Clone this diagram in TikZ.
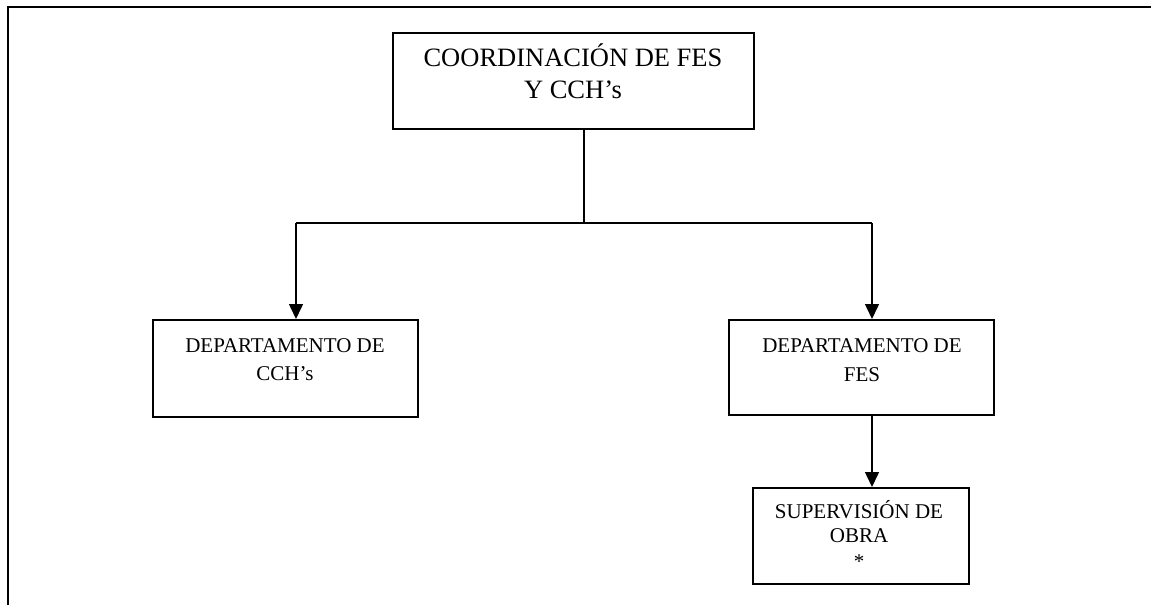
\documentclass[tikz,border=0pt]{standalone}
\usepackage{fontspec}
\setmainfont{Liberation Serif}
\usetikzlibrary{arrows.meta}
\begin{document}
\begin{tikzpicture}[x=1pt,y=-1pt,
  box/.style={draw,line width=1.5pt,rectangle,inner sep=0pt,anchor=north west},
  conn/.style={line width=1.5pt},
  arr/.style={conn,-{Triangle[length=15pt,width=14pt]}},
  big/.style={font=\fontsize{26.5}{32}\selectfont,anchor=base,inner sep=0pt},
  small/.style={font=\fontsize{21}{25}\selectfont,anchor=base,inner sep=0pt}]
\useasboundingbox (0,0) rectangle (1151,605);
% outer frame (top and left edges only)
\draw[line width=2pt] (8,605) -- (8,7) -- (1151,7);
% boxes
\node[box,minimum width=361pt,minimum height=96pt] (top) at (392,32) {};
\node[box,minimum width=265pt,minimum height=97pt] (cch) at (152,319) {};
\node[box,minimum width=265pt,minimum height=95pt] (fes) at (728,319) {};
\node[box,minimum width=216pt,minimum height=96pt] (sup) at (752,487) {};
% texts
\node[big] (t0a) at (573,66) {COORDINACIÓN DE FES};
\node[big] (t0b) at (573,98) {Y CCH’s};
\node[small] (t1a) at (285,352) {DEPARTAMENTO DE};
\node[small] (t1b) at (285,380) {CCH’s};
\node[small] (t2a) at (862,352) {DEPARTAMENTO DE};
\node[small] (t2b) at (862,381) {FES};
\node[small] (t3a) at (859,518) {SUPERVISIÓN DE};
\node[small] (t3b) at (859,542) {OBRA};
\node[small] (t3c) at (859,568) {*};
% connectors
\coordinate (j) at (584,223);
\coordinate (bl) at (296,223);
\coordinate (br) at (872,223);
\draw[conn] (top.south -| j) -- (j);
\draw[conn] (bl) -- (br);
\draw[arr] (bl) -- (bl |- cch.north);
\draw[arr] (br) -- (br |- fes.north);
\draw[arr] (fes.south -| br) -- (sup.north -| br);
\end{tikzpicture}
\end{document}
